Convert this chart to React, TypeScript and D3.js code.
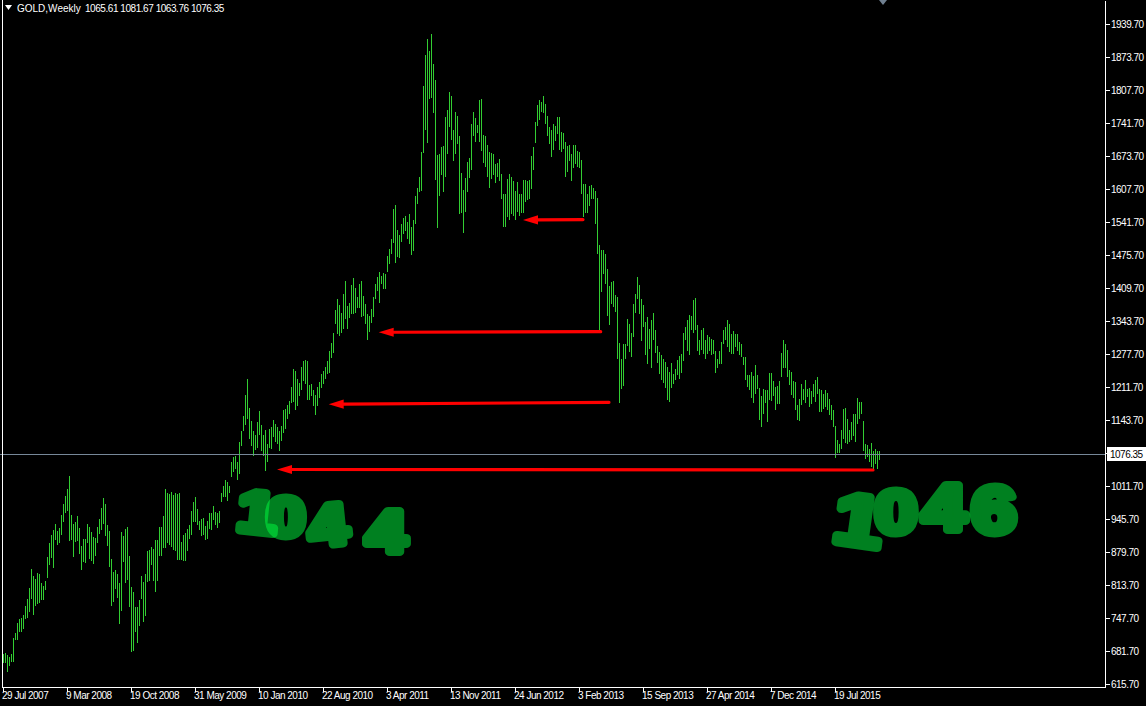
import React, { useEffect } from 'react';
import * as d3 from 'd3';

// ---- DATA (weekly GOLD bars, high / low) ----
const firstBarWeek = '29 Jul 2007';
const high2007 = [676, 678, 674, 670, 676, 708, 718, 739, 746, 748, 754, 772, 786, 808, 846, 832, 826, 838, 836, 818, 812, 822, 870];
const low2007 = [658, 658, 640, 652, 660, 660, 704, 704, 720, 720, 727, 747, 748, 760, 786, 754, 772, 776, 778, 784, 784, 804, 828];
const high2008 = [898, 914, 924, 936, 922, 928, 954, 976, 992, 1006, 1032, 954, 936, 940, 952, 928, 892, 906, 906, 936, 930, 920, 910, 908, 930, 946, 968, 988, 976, 934, 922, 866, 840, 844, 836, 818, 920, 912, 926, 930, 872, 810, 800, 770, 770, 784, 832, 820, 836, 882, 884, 890];
const low2008 = [854, 868, 848, 904, 894, 898, 914, 940, 958, 962, 902, 904, 870, 900, 902, 876, 844, 860, 858, 898, 866, 862, 856, 872, 898, 916, 924, 936, 912, 892, 850, 772, 780, 806, 788, 736, 762, 860, 818, 824, 770, 680, 682, 720, 698, 732, 786, 740, 752, 820, 822, 854];
const high2009 = [886, 904, 904, 930, 930, 952, 1006, 998, 996, 1000, 994, 998, 996, 999, 900, 914, 918, 926, 934, 962, 980, 990, 966, 942, 946, 948, 932, 942, 958, 958, 972, 960, 958, 962, 998, 1012, 1024, 1020, 1012, 1060, 1070, 1072, 1060, 1100, 1122, 1152, 1194, 1226, 1168, 1142, 1122, 1114];
const low2009 = [822, 800, 822, 872, 872, 888, 888, 898, 894, 890, 884, 882, 864, 864, 864, 862, 862, 882, 906, 914, 940, 940, 934, 924, 912, 914, 904, 906, 926, 924, 944, 934, 928, 938, 980, 990, 990, 982, 998, 1030, 1040, 1046, 1024, 1037, 1092, 1122, 1134, 1146, 1107, 1092, 1072, 1084];
const high2010 = [1140, 1162, 1134, 1114, 1124, 1097, 1126, 1130, 1144, 1136, 1130, 1122, 1132, 1164, 1167, 1174, 1182, 1210, 1247, 1242, 1227, 1219, 1250, 1262, 1264, 1262, 1214, 1216, 1204, 1194, 1210, 1220, 1236, 1242, 1250, 1262, 1282, 1299, 1319, 1364, 1386, 1374, 1359, 1396, 1422, 1372, 1379, 1414, 1429, 1409, 1390, 1417];
const low2010 = [1089, 1114, 1082, 1072, 1042, 1060, 1089, 1086, 1110, 1100, 1096, 1082, 1102, 1119, 1127, 1146, 1156, 1179, 1180, 1165, 1172, 1192, 1204, 1222, 1216, 1184, 1184, 1192, 1172, 1154, 1172, 1189, 1209, 1216, 1227, 1236, 1239, 1269, 1279, 1336, 1316, 1312, 1319, 1326, 1346, 1326, 1349, 1357, 1356, 1359, 1369, 1369];
const high2011 = [1422, 1392, 1377, 1356, 1352, 1366, 1390, 1416, 1430, 1440, 1432, 1439, 1437, 1472, 1486, 1507, 1566, 1574, 1525, 1515, 1537, 1548, 1552, 1540, 1557, 1530, 1544, 1592, 1609, 1630, 1680, 1812, 1874, 1907, 1882, 1917, 1857, 1824, 1674, 1676, 1690, 1692, 1750, 1765, 1800, 1792, 1724, 1760, 1752, 1712, 1638, 1604];
const low2011 = [1350, 1352, 1336, 1304, 1320, 1339, 1350, 1387, 1402, 1379, 1416, 1407, 1407, 1440, 1456, 1476, 1499, 1459, 1470, 1468, 1500, 1516, 1522, 1506, 1496, 1475, 1482, 1537, 1577, 1601, 1602, 1678, 1725, 1698, 1787, 1788, 1758, 1624, 1529, 1592, 1634, 1600, 1630, 1677, 1730, 1705, 1662, 1676, 1697, 1556, 1558, 1518];
const high2012 = [1629, 1660, 1669, 1736, 1760, 1749, 1734, 1784, 1787, 1714, 1712, 1694, 1680, 1678, 1677, 1656, 1658, 1667, 1636, 1596, 1597, 1627, 1637, 1630, 1622, 1602, 1620, 1597, 1596, 1625, 1625, 1622, 1625, 1672, 1690, 1740, 1774, 1784, 1780, 1792, 1777, 1752, 1730, 1725, 1736, 1732, 1750, 1750, 1720, 1718, 1700, 1692, 1694];
const low2012 = [1560, 1600, 1629, 1645, 1712, 1700, 1718, 1700, 1682, 1658, 1650, 1630, 1609, 1627, 1634, 1618, 1630, 1622, 1587, 1530, 1530, 1550, 1545, 1557, 1552, 1545, 1560, 1552, 1558, 1558, 1580, 1584, 1587, 1607, 1644, 1698, 1732, 1745, 1760, 1758, 1736, 1712, 1696, 1670, 1684, 1702, 1716, 1684, 1680, 1687, 1630, 1640, 1662];
const high2013 = [1677, 1694, 1694, 1682, 1680, 1665, 1617, 1617, 1596, 1612, 1614, 1609, 1602, 1589, 1494, 1484, 1485, 1476, 1447, 1412, 1420, 1422, 1394, 1390, 1299, 1266, 1297, 1297, 1346, 1337, 1319, 1377, 1397, 1430, 1414, 1387, 1374, 1340, 1350, 1327, 1344, 1359, 1324, 1292, 1280, 1274, 1266, 1260, 1250, 1240, 1258, 1237];
const low2013 = [1622, 1649, 1657, 1650, 1649, 1596, 1550, 1559, 1559, 1572, 1586, 1587, 1536, 1476, 1322, 1400, 1436, 1417, 1352, 1334, 1377, 1370, 1360, 1266, 1178, 1206, 1212, 1267, 1292, 1280, 1270, 1310, 1358, 1386, 1357, 1302, 1330, 1274, 1257, 1287, 1249, 1305, 1278, 1258, 1236, 1224, 1218, 1209, 1185, 1180, 1209, 1216];
const high2014 = [1247, 1264, 1272, 1277, 1318, 1330, 1344, 1354, 1352, 1385, 1389, 1334, 1305, 1324, 1329, 1304, 1314, 1310, 1307, 1304, 1282, 1267, 1282, 1300, 1324, 1330, 1344, 1337, 1316, 1322, 1317, 1317, 1300, 1296, 1270, 1270, 1235, 1234, 1240, 1232, 1254, 1234, 1209, 1192, 1207, 1204, 1204, 1238, 1238, 1222, 1210, 1212];
const low2014 = [1225, 1234, 1227, 1238, 1262, 1305, 1282, 1274, 1324, 1318, 1325, 1282, 1274, 1284, 1276, 1266, 1276, 1282, 1274, 1276, 1239, 1249, 1257, 1256, 1296, 1305, 1290, 1280, 1276, 1277, 1290, 1282, 1274, 1270, 1254, 1225, 1210, 1205, 1189, 1178, 1197, 1207, 1144, 1130, 1157, 1178, 1140, 1184, 1182, 1192, 1165, 1177];
const high2015 = [1222, 1279, 1305, 1297, 1284, 1244, 1240, 1222, 1220, 1174, 1187, 1217, 1207, 1224, 1207, 1209, 1202, 1217, 1225, 1230, 1207, 1204, 1197, 1204, 1198, 1187, 1174, 1164, 1132, 1104, 1097, 1125, 1167, 1169, 1147, 1125, 1140, 1156, 1157, 1189, 1180, 1180, 1142, 1097, 1095, 1087, 1098, 1082, 1087, 1082, 1081.67];
const low2015 = [1177, 1230, 1249, 1249, 1230, 1214, 1194, 1189, 1164, 1144, 1142, 1174, 1184, 1178, 1190, 1170, 1176, 1190, 1180, 1197, 1160, 1160, 1167, 1170, 1164, 1154, 1145, 1130, 1069, 1078, 1078, 1087, 1107, 1098, 1096, 1100, 1105, 1112, 1100, 1137, 1147, 1157, 1082, 1067, 1071, 1060, 1050, 1044, 1056, 1047, 1063.76];

const lastBar = { open: 1065.61, high: 1081.67, low: 1063.76, close: 1076.35 };
const symbolTitle = 'GOLD,Weekly';

// price axis labels, bottom to top, one every 66 points
const priceBase = 615.7;
const priceStep = 66;
const priceLabels = ['615.70', '681.70', '747.70', '813.70', '879.70', '945.70', '1011.70', '1077.70', '1143.70', '1211.70', '1277.70', '1343.70', '1409.70', '1475.70', '1541.70', '1607.70', '1673.70', '1741.70', '1807.70', '1873.70', '1939.70'];

// time axis labels, one every 32 weekly bars
const dateTickEvery = 32;
const dateLabels = ['29 Jul 2007', '9 Mar 2008', '19 Oct 2008', '31 May 2009', '10 Jan 2010', '22 Aug 2010', '3 Apr 2011', '13 Nov 2011', '24 Jun 2012', '3 Feb 2013', '15 Sep 2013', '27 Apr 2014', '7 Dec 2014', '19 Jul 2015'];

// hand-drawn red arrows: [bar index, price] from -> to (tip)
const arrowFrom = [[290, 1545.1], [298.85, 1320.9], [303, 1179.7], [435, 1044.3]];
const arrowTo = [[260, 1544.3], [187.85, 1319.7], [162.85, 1175.7], [137, 1045.3]];

// hand-written notes
const noteTexts = ['1044', '1046'];

const highs: number[] = [...high2007, ...high2008, ...high2009, ...high2010, ...high2011, ...high2012, ...high2013, ...high2014, ...high2015];
const lows: number[] = [...low2007, ...low2008, ...low2009, ...low2010, ...low2011, ...low2012, ...low2013, ...low2014, ...low2015];

const FONT = "'Liberation Sans', Arial, sans-serif";

export default function App() {
  useEffect(() => {
    document.body.style.margin = '0';
    document.body.style.background = '#000';
  }, []);

  const W = 1146;
  const H = 706;
  const n = highs.length;
  const x = d3.scaleLinear().domain([0, n - 1]).range([3, 3 + 2 * (n - 1)]);
  const y = d3.scaleLinear().domain([priceBase, priceBase + priceStep * 20]).range([684.3, 24.3]);

  const axisX = 1105.5;
  const bottomY = 687.5;
  const closeY = y(lastBar.close);

  // note layout (per character): centre x, baseline y, rotation, size
  const noteLayout = [
    { xs: [255, 286, 330, 386], ys: [532, 536, 545, 552], rot: [6, 0, -6, 0], size: [58, 56, 58, 60] },
    { xs: [855, 896, 944, 994], ys: [545, 533, 530, 533], rot: [8, 0, 0, 0], size: [72, 62, 64, 66] },
  ];

  return (
    <div style={{ position: 'absolute', left: 0, top: 0, width: W, height: H, background: '#000' }}>
      <svg width={W} height={H} style={{ display: 'block' }} fontFamily={FONT}>
        <rect x={0} y={0} width={W} height={H} fill="#000" />

        {/* bars */}
        <g shapeRendering="crispEdges" fill="#32CD32">
          {highs.map((h, i) => {
            const y1 = Math.round(y(h));
            const y2 = Math.round(y(lows[i]));
            return <rect key={i} x={Math.round(x(i))} y={y1} width={1} height={Math.max(1, y2 - y1)} />;
          })}
        </g>

        {/* current price line */}
        <line x1={0} x2={axisX} y1={Math.round(closeY) + 0.5} y2={Math.round(closeY) + 0.5} stroke="#778899" strokeWidth={1} shapeRendering="crispEdges" />

        {/* red arrows */}
        <g>
          {arrowFrom.map((f, k) => {
            const x1 = x(f[0]);
            const y1 = y(f[1]);
            const x2 = x(arrowTo[k][0]);
            const y2 = y(arrowTo[k][1]);
            const ang = Math.atan2(y2 - y1, x2 - x1);
            const headLen = 15;
            const headHalf = 4.6;
            const bx = x2 - headLen * Math.cos(ang);
            const by = y2 - headLen * Math.sin(ang);
            const px = -Math.sin(ang) * headHalf;
            const py = Math.cos(ang) * headHalf;
            return (
              <g key={k}>
                <line x1={x1} y1={y1} x2={bx} y2={by} stroke="#ff0000" strokeWidth={3.2} strokeLinecap="round" />
                <polygon points={`${x2},${y2} ${bx + px},${by + py} ${bx - px},${by - py}`} fill="#ff0000" />
              </g>
            );
          })}
        </g>

        {/* hand-written notes */}
        {noteTexts.map((t, k) => (
          <g key={k}>
            {t.split('').map((ch, j) => {
              const L = noteLayout[k];
              return (
                <text
                  key={j}
                  x={0}
                  y={0}
                  textAnchor="middle"
                  fontSize={L.size[j]}
                  fontWeight="bold"
                  fontFamily="'Liberation Sans', Arial, sans-serif"
                  fill="#00ff40"
                  stroke="#00ff40"
                  strokeWidth={8}
                  strokeLinejoin="round"
                  opacity={0.5}
                  transform={`translate(${L.xs[j]} ${L.ys[j]}) rotate(${L.rot[j]}) scale(1.22 1)`}
                >
                  {ch}
                </text>
              );
            })}
          </g>
        ))}

        {/* frame */}
        <g stroke="#ffffff" strokeWidth={1} shapeRendering="crispEdges">
          <line x1={2.5} x2={2.5} y1={0} y2={bottomY} />
          <line x1={2} x2={axisX + 0.5} y1={bottomY} y2={bottomY} />
          <line x1={axisX} x2={axisX} y1={1} y2={bottomY} />
        </g>

        {/* price axis */}
        <g fontSize={10} fill="#ffffff" letterSpacing={-0.5}>
          {priceLabels.map((lab, k) => {
            const ty = y(priceBase + priceStep * k);
            return (
              <g key={k}>
                <line x1={axisX} x2={axisX + 4} y1={Math.round(ty) + 0.5} y2={Math.round(ty) + 0.5} stroke="#fff" shapeRendering="crispEdges" />
                <text x={1111} y={ty + 3.6}>{lab}</text>
              </g>
            );
          })}
        </g>

        {/* current price label */}
        <rect x={1107} y={Math.round(closeY) - 7} width={39} height={14} fill="#ffffff" />
        <text x={1110} y={closeY + 4} fontSize={10} fill="#000" letterSpacing={-0.5}>{lastBar.close.toFixed(2)}</text>

        {/* time axis */}
        <g fontSize={10} fill="#ffffff" letterSpacing={-0.5}>
          {dateLabels.map((lab, k) => {
            const tx = Math.round(x(k * dateTickEvery)) + 0.5;
            return (
              <g key={k}>
                <line x1={tx} x2={tx} y1={bottomY} y2={bottomY + 4} stroke="#fff" shapeRendering="crispEdges" />
                <text x={tx - 1.5} y={699}>{lab}</text>
              </g>
            );
          })}
        </g>

        {/* title */}
        <polygon points="5,5 12,5 8.5,10" fill="#ffffff" />
        <text x={17} y={12} fontSize={10} fill="#ffffff">{symbolTitle}</text>
        <text x={85} y={12} fontSize={10} fill="#ffffff" letterSpacing={-0.45}>
          {[lastBar.open, lastBar.high, lastBar.low, lastBar.close].map((v) => v.toFixed(2)).join(' ')}
        </text>

        {/* chart shift marker */}
        <polygon points="879,0 887,0 883,5" fill="#708090" />
        <title>{firstBarWeek}</title>
      </svg>
    </div>
  );
}
